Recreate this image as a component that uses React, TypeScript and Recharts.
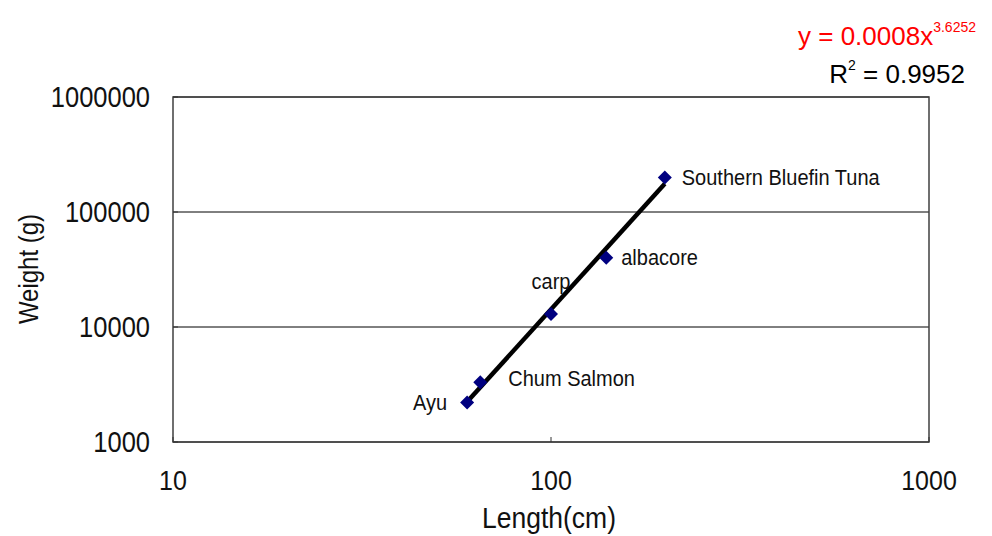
import React from 'react';
import {
  ScatterChart,
  Scatter,
  XAxis,
  YAxis,
  CartesianGrid,
  ReferenceArea,
  ReferenceLine,
  Customized,
} from 'recharts';

// ---- data ----
const fishNames = ['Ayu', 'Chum Salmon', 'carp', 'albacore', 'Southern Bluefin Tuna'];
const lengthsCm = [60, 65, 100, 140, 200];
const weightsG = [2200, 3300, 13000, 40000, 200000];

const xTicks = [10, 100, 1000];
const yTicks = [1000, 10000, 100000, 1000000];

// power trendline y = a * x^b (as displayed)
const trendA = 0.0008;
const trendB = 3.6252;
const trendRange = [60, 200];
const rSquared = '0.9952';

const data = fishNames.map((name, i) => ({ name, x: lengthsCm[i], y: weightsG[i] }));
const trendStart = { x: trendRange[0], y: trendA * Math.pow(trendRange[0], trendB) };
const trendEnd = { x: trendRange[1], y: trendA * Math.pow(trendRange[1], trendB) };

// label placement styles
const labelStyle: Record<string, { dx: number; dy: number; anchor: 'start' | 'middle' | 'end' }> = {
  Ayu: { dx: -20, dy: 0, anchor: 'end' },
  'Chum Salmon': { dx: 28, dy: -4, anchor: 'start' },
  carp: { dx: 0, dy: -32, anchor: 'middle' },
  albacore: { dx: 15, dy: 0, anchor: 'start' },
  'Southern Bluefin Tuna': { dx: 17, dy: 0, anchor: 'start' },
};

const FONT = '"Liberation Sans", Arial, sans-serif';
const STRETCH = 1.14;

const StretchText = (props: {
  x: number;
  y: number;
  anchor: 'start' | 'middle' | 'end';
  size: number;
  children: React.ReactNode;
  rotate?: number;
  fill?: string;
}) => (
  <text
    transform={`translate(${props.x},${props.y}) rotate(${props.rotate || 0}) scale(1,${STRETCH})`}
    x={0}
    y={0}
    textAnchor={props.anchor}
    dominantBaseline="central"
    fontSize={props.size}
    fontFamily={FONT}
    fill={props.fill || '#111'}
  >
    {props.children}
  </text>
);

const DiamondWithLabel = (props: any) => {
  const { cx, cy, payload } = props;
  if (cx == null || cy == null) return null;
  const r = 7;
  const s = labelStyle[payload.name] || { dx: 15, dy: 0, anchor: 'start' };
  return (
    <g>
      <path
        d={`M${cx},${cy - r} L${cx + r},${cy} L${cx},${cy + r} L${cx - r},${cy} Z`}
        fill="#000080"
      />
      <StretchText x={cx + s.dx} y={cy + s.dy} anchor={s.anchor} size={20}>
        {payload.name}
      </StretchText>
    </g>
  );
};

const XTick = (props: any) => {
  const { x, y, payload } = props;
  return (
    <StretchText x={x} y={y + 10} anchor="middle" size={25}>
      {payload.value}
    </StretchText>
  );
};

const YTick = (props: any) => {
  const { x, y, payload } = props;
  return (
    <StretchText x={x} y={y} anchor="end" size={25.5}>
      {payload.value}
    </StretchText>
  );
};

const Equation = () => (
  <g fontFamily={FONT}>
    <text x={976} y={45} textAnchor="end" fill="#ff0000" fontSize={26}>
      y = 0.0008x
      <tspan fontSize={14} dy={-13}>
        {String(trendB)}
      </tspan>
    </text>
    <text x={965} y={83} textAnchor="end" fill="#000" fontSize={26}>
      R
      <tspan fontSize={14} dy={-13}>
        2
      </tspan>
      <tspan dy={13}>{` = ${rSquared}`}</tspan>
    </text>
  </g>
);

export default function App() {
  return (
    <div style={{ position: 'absolute', left: 0, top: 0, width: 992, height: 536, background: '#fff' }}>
      <ScatterChart
        width={992}
        height={536}
        margin={{ top: 97, right: 63, left: 0, bottom: 0 }}
        style={{ fontFamily: FONT }}
      >
        <CartesianGrid horizontal vertical={false} stroke="#000" strokeWidth={1} />
        <XAxis
          dataKey="x"
          type="number"
          scale="log"
          domain={[10, 1000]}
          ticks={xTicks}
          allowDataOverflow
          height={94}
          axisLine={false}
          tickSize={-5}
          tickMargin={33}
          tickLine={{ stroke: '#333' }}
          tick={<XTick />}
          label={{
            content: () => (
              <StretchText x={549} y={517} anchor="middle" size={26.5}>
                Length(cm)
              </StretchText>
            ),
          }}
        />
        <YAxis
          dataKey="y"
          type="number"
          scale="log"
          domain={[1000, 1000000]}
          ticks={yTicks}
          allowDataOverflow
          width={173}
          axisLine={false}
          tickSize={-5}
          tickMargin={28}
          tickLine={{ stroke: '#333' }}
          tick={<YTick />}
          label={{
            content: () => (
              <StretchText x={28} y={269} anchor="middle" size={24} rotate={-90}>
                Weight (g)
              </StretchText>
            ),
          }}
        />
        <ReferenceArea x1={10} x2={1000} y1={1000} y2={1000000} fill="none" stroke="#404040" strokeWidth={1.5} />
        <ReferenceLine segment={[trendStart, trendEnd]} stroke="#000" strokeWidth={4.5} />
        <Scatter data={data} isAnimationActive={false} shape={<DiamondWithLabel />} />
        <Customized component={Equation} />
      </ScatterChart>
    </div>
  );
}
